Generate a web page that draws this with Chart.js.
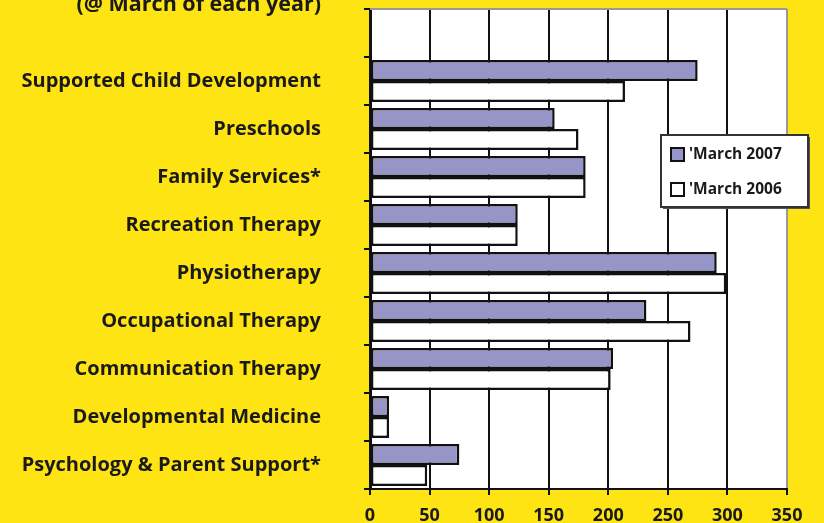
<!DOCTYPE html>
<html><head><meta charset="utf-8">
<script src="https://cdn.jsdelivr.net/npm/chart.js@4"></script>
<style>html,body{margin:0;padding:0;background:#FFE414;overflow:hidden}</style>
</head><body>
<canvas id="c" width="824" height="523" style="width:824px;height:523px;display:block"></canvas>
<script>
const categories = ['', 'Supported Child Development', 'Preschools', 'Family Services*', 'Recreation Therapy', 'Physiotherapy', 'Occupational Therapy', 'Communication Therapy', 'Developmental Medicine', 'Psychology & Parent Support*'];
const seriesNames = ["'March 2007", "'March 2006"];
const march2007 = [null, 275, 155, 181, 124, 291, 232, 204, 16, 75];
const march2006 = [null, 214, 175, 181, 124, 299, 269, 202, 16, 48];
const xTicks = [0, 50, 100, 150, 200, 250, 300, 350];
const subtitle = '(@ March of each year)';

const YELLOW = '#FFE414';
const PURPLE = '#9595C8';
const FONT = '"Open Sans", "DejaVu Sans", sans-serif';

const decorPlugin = {
  id: 'decor',
  beforeDraw(chart) {
    const c = chart.ctx, a = chart.chartArea;
    c.save();
    c.fillStyle = YELLOW;
    c.fillRect(0, 0, chart.width, chart.height);
    c.fillStyle = '#fff';
    c.fillRect(a.left, a.top, a.right - a.left, a.bottom - a.top);
    c.restore();
  },
  afterDraw(chart) {
    const c = chart.ctx, a = chart.chartArea;
    c.save();
    // top border
    c.strokeStyle = '#999';
    c.lineWidth = 2;
    c.beginPath(); c.moveTo(a.left, a.top); c.lineTo(a.right, a.top); c.stroke();
    // subtitle
    c.fillStyle = '#1a1a1a';
    c.font = 'bold 21.5px ' + FONT;
    c.textAlign = 'right';
    c.textBaseline = 'alphabetic';
    c.fillText(subtitle, 321, 11);
    // legend
    const lx = 661, ly = 135, lw = 147, lh = 72;
    c.fillStyle = '#555';
    c.fillRect(lx + 2, ly + 2, lw, lh);
    c.fillStyle = '#fff';
    c.fillRect(lx, ly, lw, lh);
    c.strokeStyle = '#333';
    c.lineWidth = 2;
    c.strokeRect(lx, ly, lw, lh);
    chart.data.datasets.forEach((ds, i) => {
      const my = 148 + i * 35;
      c.fillStyle = ds.backgroundColor;
      c.fillRect(671, my, 13, 13);
      c.strokeStyle = '#111';
      c.lineWidth = 2;
      c.strokeRect(671, my, 13, 13);
      c.fillStyle = '#1a1a1a';
      c.font = 'bold 15.5px ' + FONT;
      c.textAlign = 'left';
      c.textBaseline = 'middle';
      c.fillText(ds.label, 689, my + 7);
    });
    c.restore();
  }
};

new Chart(document.getElementById('c'), {
  type: 'bar',
  data: {
    labels: categories,
    datasets: [
      { label: seriesNames[0], data: march2007, backgroundColor: PURPLE, borderColor: '#111', borderWidth: 2.5, borderSkipped: false, categoryPercentage: 0.87, barPercentage: 1.0 },
      { label: seriesNames[1], data: march2006, backgroundColor: '#ffffff', borderColor: '#111', borderWidth: 2.5, borderSkipped: false, categoryPercentage: 0.87, barPercentage: 1.0 }
    ]
  },
  options: {
    indexAxis: 'y',
    responsive: false,
    animation: false,
    devicePixelRatio: 1,
    layout: { padding: { top: 9, right: 37, bottom: 0, left: 0 } },
    plugins: { legend: { display: false }, tooltip: { enabled: false }, title: { display: false } },
    scales: {
      x: {
        min: 0, max: 350,
        afterBuildTicks(scale) { scale.ticks = xTicks.map(v => ({ value: v })); },
        afterFit(scale) { scale.height = 34; scale.paddingLeft = 0; scale.paddingRight = 0; },
        grid: {
          color: ctx => (ctx.tick && ctx.tick.value === 350) ? '#999' : '#111',
          lineWidth: 2, tickLength: 6, drawTicks: true,
          tickColor: '#111'
        },
        border: { display: true, color: '#111', width: 2 },
        ticks: { color: '#1a1a1a', font: { family: FONT, size: 18, weight: 'bold' }, padding: 10, maxRotation: 0 }
      },
      y: {
        afterFit(scale) { scale.width = 370; scale.paddingTop = 0; scale.paddingBottom = 0; },
        grid: { drawOnChartArea: false, drawTicks: true, tickLength: 6, color: '#111', lineWidth: 2, offset: true },
        border: { display: true, color: '#111', width: 3 },
        ticks: { color: '#1a1a1a', font: { family: FONT, size: 20, weight: 'bold' }, padding: 43, autoSkip: false }
      }
    }
  },
  plugins: [decorPlugin]
});
</script>
</body></html>
